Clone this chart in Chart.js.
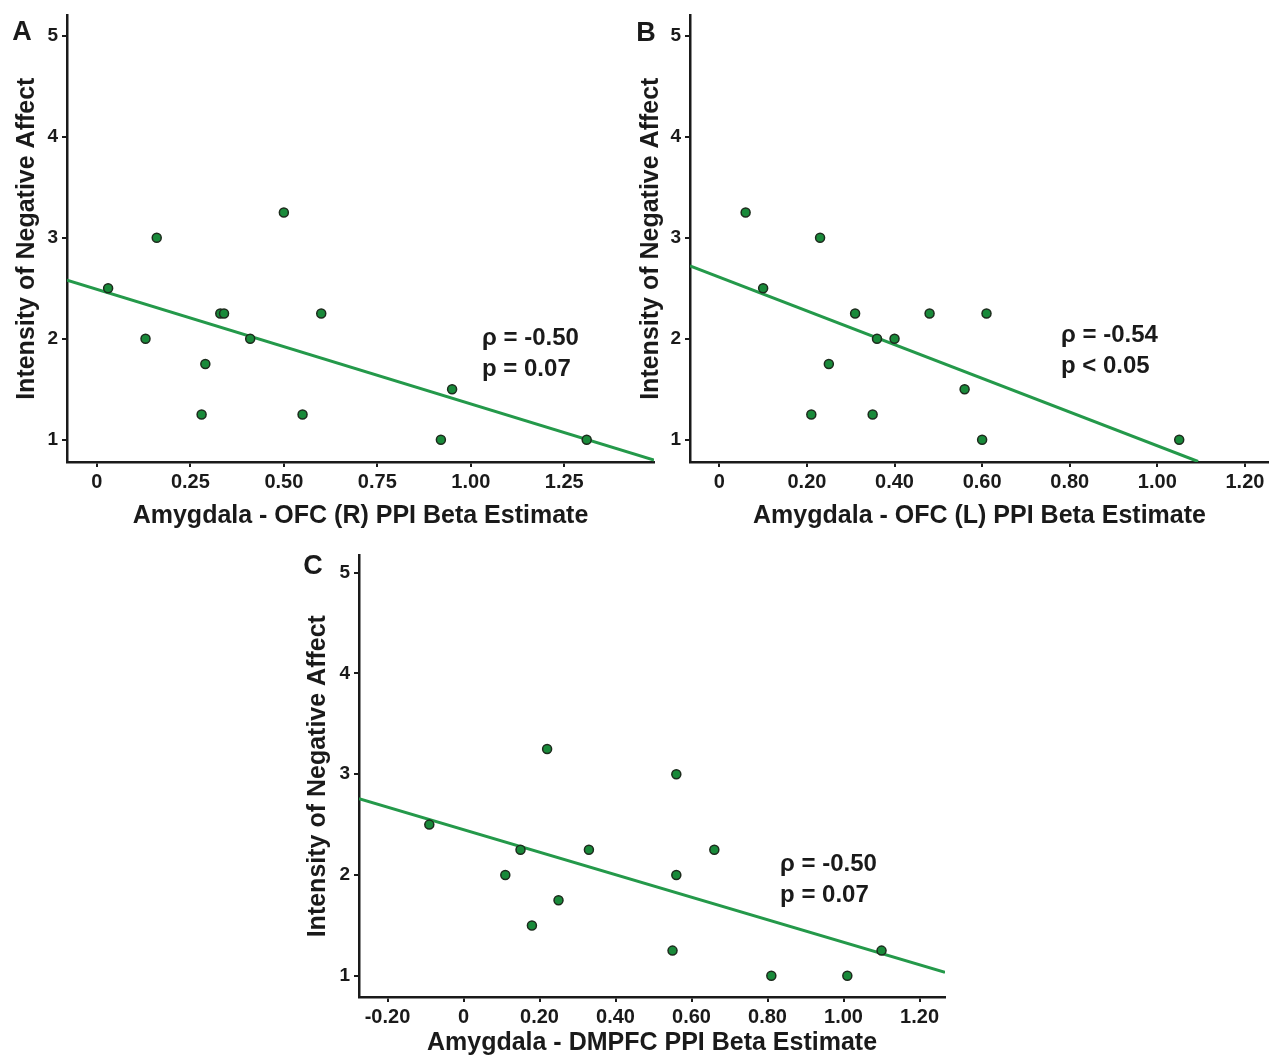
<!DOCTYPE html>
<html>
<head>
<meta charset="utf-8">
<script src="https://cdn.jsdelivr.net/npm/chart.js@4.4.0/dist/chart.umd.min.js"></script>
<style>
    html, body { margin: 0; padding: 0; background: #fff; overflow: hidden; }
    body { width: 1269px; height: 1058px; position: relative; }
    canvas { position: absolute; }
</style>
</head>
<body>
<canvas id="chartA" width="660" height="540" style="left:0;top:0;width:660px;height:540px"></canvas>
<canvas id="chartB" width="680" height="540" style="left:625px;top:0;width:680px;height:540px"></canvas>
<canvas id="chartC" width="680" height="518" style="left:290px;top:540px;width:680px;height:518px"></canvas>
<script>
// Panel A - Amygdala / OFC (R)
const xA = [0.03, 0.16, 0.50, 0.13, 0.33, 0.34, 0.41, 0.60, 0.29, 0.28, 0.55, 0.95, 0.92, 1.31];
const yA = [2.5, 3.0, 3.25, 2.0, 2.25, 2.25, 2.0, 2.25, 1.75, 1.25, 1.25, 1.5, 1.0, 1.0];
const fitXA = [-0.08, 1.49];
const fitYA = [2.58, 0.80];
const xTicksA = [0, 0.25, 0.5, 0.75, 1.0, 1.25];
const xLabelsA = ['0', '0.25', '0.50', '0.75', '1.00', '1.25'];
const statsA = ['\u03C1 = -0.50', 'p = 0.07'];

// Panel B - Amygdala / OFC (L)
const xB = [0.06, 0.23, 0.10, 0.31, 0.48, 0.61, 0.36, 0.40, 0.25, 0.56, 0.21, 0.35, 0.60, 1.05];
const yB = [3.25, 3.0, 2.5, 2.25, 2.25, 2.25, 2.0, 2.0, 1.75, 1.5, 1.25, 1.25, 1.0, 1.0];
const fitXB = [-0.067, 1.093];
const fitYB = [2.72, 0.785];
const xTicksB = [0, 0.2, 0.4, 0.6, 0.8, 1.0, 1.2];
const xLabelsB = ['0', '0.20', '0.40', '0.60', '0.80', '1.00', '1.20'];
const statsB = ['\u03C1 = -0.54', 'p < 0.05'];

// Panel C - Amygdala / DMPFC
const xC = [0.22, 0.56, -0.09, 0.15, 0.33, 0.66, 0.11, 0.56, 0.25, 0.18, 0.55, 1.10, 0.81, 1.01];
const yC = [3.25, 3.0, 2.5, 2.25, 2.25, 2.25, 2.0, 2.0, 1.75, 1.5, 1.25, 1.25, 1.0, 1.0];
const fitXC = [-0.275, 1.267];
const fitYC = [2.757, 1.036];
const xTicksC = [-0.2, 0, 0.2, 0.4, 0.6, 0.8, 1.0, 1.2];
const xLabelsC = ['-0.20', '0', '0.20', '0.40', '0.60', '0.80', '1.00', '1.20'];
const statsC = ['\u03C1 = -0.50', 'p = 0.07'];

const yTicks = [1, 2, 3, 4, 5];
const yTitle = 'Intensity of Negative Affect';

const FONT = '"Liberation Sans", Arial, Helvetica, sans-serif';
const INK = '#1a1a1a';

// letter + rho/p text
const panelText = {
    id: 'panelText',
    afterDraw(chart, args, opts) {
        const ctx = chart.ctx;
        ctx.save();
        ctx.fillStyle = INK;
        ctx.textBaseline = 'middle';
        ctx.textAlign = 'center';
        ctx.font = 'bold 27px ' + FONT;
        ctx.fillText(opts.letter, opts.letterX, opts.letterY);
        ctx.textAlign = 'left';
        ctx.font = 'bold 24px ' + FONT;
        const x = chart.scales.x.getPixelForValue(opts.statX);
        const y = chart.scales.y.getPixelForValue(opts.statY);
        opts.stats.forEach((s, i) => ctx.fillText(s, x, y + i * 31));
        ctx.restore();
    }
};

function makePanel(id, p) {
    const pts = p.xs.map((x, i) => ({ x: x, y: p.ys[i] }));
    const fit = p.fitX.map((x, i) => ({ x: x, y: p.fitY[i] }));
    const area = p.area;
    return new Chart(document.getElementById(id), {
        type: 'scatter',
        data: {
            datasets: [{
                data: pts,
                backgroundColor: '#198a3a',
                borderColor: '#1d2b1d',
                borderWidth: 1.5,
                pointRadius: 4.5,
                order: 0
            }, {
                type: 'line',
                data: fit,
                borderColor: '#24994a',
                borderWidth: 3,
                pointRadius: 0,
                fill: false,
                order: 1
            }]
        },
        options: {
            responsive: false,
            animation: false,
            events: [],
            layout: {
                padding: { top: area.top, right: p.w - area.right, left: 0, bottom: 0 }
            },
            plugins: {
                legend: { display: false },
                tooltip: { enabled: false },
                panelText: {
                    letter: p.letter, letterX: p.letterPos[0], letterY: p.letterPos[1],
                    stats: p.stats, statX: p.statPos[0], statY: p.statPos[1]
                }
            },
            scales: {
                x: {
                    type: 'linear',
                    min: p.xMin,
                    max: p.xMax,
                    afterBuildTicks: s => { s.ticks = p.xTicks.map(v => ({ value: v })); },
                    afterFit: s => { s.height = p.h - area.bottom; },
                    grid: { drawOnChartArea: false, drawTicks: true, tickLength: 5, color: INK, lineWidth: 2 },
                    border: { display: true, color: INK, width: 2.5 },
                    ticks: {
                        autoSkip: false, maxRotation: 0, padding: 3, color: INK,
                        font: { family: FONT, size: 20, weight: 'bold' },
                        callback: (v, i) => p.xLabels[i]
                    },
                    title: {
                        display: true, text: p.xTitle, color: INK,
                        font: { family: FONT, size: 25, weight: 'bold' },
                        padding: { top: 0, bottom: p.xTitlePad }
                    }
                },
                y: {
                    type: 'linear',
                    min: p.yMin,
                    max: p.yMax,
                    afterBuildTicks: s => { s.ticks = yTicks.map(v => ({ value: v })); },
                    afterFit: s => { s.width = area.left; },
                    grid: { drawOnChartArea: false, drawTicks: true, tickLength: 5, color: INK, lineWidth: 2 },
                    border: { display: true, color: INK, width: 2.5 },
                    ticks: {
                        padding: 4, color: INK,
                        font: { family: FONT, size: 19, weight: 'bold' },
                        callback: v => String(v)
                    },
                    title: {
                        display: true, text: yTitle, color: INK,
                        font: { family: FONT, size: 25, weight: 'bold' },
                        padding: { top: p.yTitlePad, bottom: 0 }
                    }
                }
            }
        },
        plugins: [panelText]
    });
}

makePanel('chartA', {
    xs: xA, ys: yA, fitX: fitXA, fitY: fitYA,
    xTicks: xTicksA, xLabels: xLabelsA, xMin: -0.08, xMax: 1.49, yMin: 0.78, yMax: 5.2,
    w: 660, h: 540, area: { left: 67, right: 654, top: 15, bottom: 462 },
    xTitle: 'Amygdala - OFC (R) PPI Beta Estimate', xTitlePad: 9, yTitlePad: 12,
    letter: 'A', letterPos: [22, 33], stats: statsA, statPos: [1.03, 2.0]
});

makePanel('chartB', {
    xs: xB, ys: yB, fitX: fitXB, fitY: fitYB,
    xTicks: xTicksB, xLabels: xLabelsB, xMin: -0.067, xMax: 1.255, yMin: 0.78, yMax: 5.2,
    w: 680, h: 540, area: { left: 65, right: 644, top: 15, bottom: 462 },
    xTitle: 'Amygdala - OFC (L) PPI Beta Estimate', xTitlePad: 9, yTitlePad: 11,
    letter: 'B', letterPos: [21, 34], stats: statsB, statPos: [0.78, 2.03]
});

makePanel('chartC', {
    xs: xC, ys: yC, fitX: fitXC, fitY: fitYC,
    xTicks: xTicksC, xLabels: xLabelsC, xMin: -0.275, xMax: 1.267, yMin: 0.79, yMax: 5.17,
    w: 680, h: 518, area: { left: 69, right: 655, top: 13, bottom: 457 },
    xTitle: 'Amygdala - DMPFC PPI Beta Estimate', xTitlePad: 0, yTitlePad: 13,
    letter: 'C', letterPos: [23, 27], stats: statsC, statPos: [0.833, 2.11]
});
</script>
</body>
</html>
